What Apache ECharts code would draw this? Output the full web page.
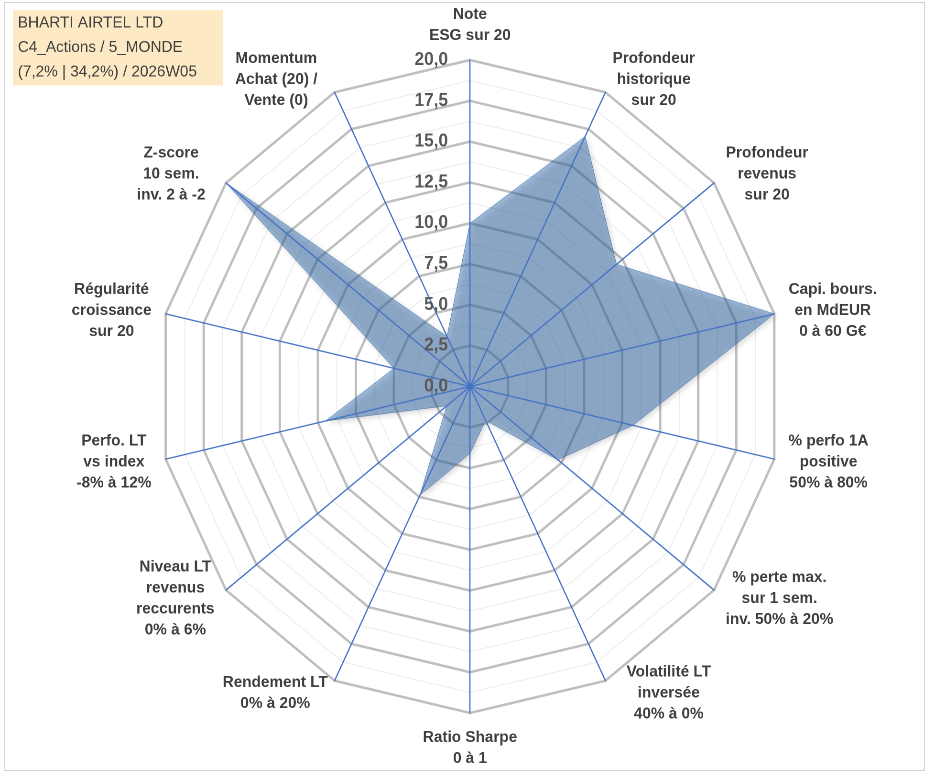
<!DOCTYPE html>
<html>
<head>
<meta charset="utf-8">
<script src="https://cdn.jsdelivr.net/npm/echarts@6/dist/echarts.min.js"></script>
<style>
  html, body { margin: 0; padding: 0; background: #fff; overflow: hidden; }
  #wrap { width: 933px; height: 776px; overflow: hidden; }
  /* the excel plot area is a bit narrower than it is tall */
  #radarChart { width: 976px; height: 776px; transform: scaleX(0.956); transform-origin: 0 0; }
</style>
</head>
<body>
<div id="wrap"><div id="radarChart"></div></div>
<script>
// axes in the order of the reference, clockwise from the top
var axisNames = [
    'Note\nESG sur 20',
    'Profondeur\nhistorique\nsur 20',
    'Profondeur\nrevenus\nsur 20',
    'Capi. bours.\nen MdEUR\n0 à 60 G€',
    '% perfo 1A\npositive\n50% à 80%',
    '% perte max.\nsur 1 sem.\ninv. 50% à 20%',
    'Volatilité LT\ninversée\n40% à 0%',
    'Ratio Sharpe\n0 à 1',
    'Rendement LT\n0% à 20%',
    'Niveau LT\nrevenus\nreccurents\n0% à 6%',
    'Perfo. LT\nvs index\n-8% à 12%',
    'Régularité\ncroissance\nsur 20',
    'Z-score\n10 sem.\ninv. 2 à -2',
    'Momentum\nAchat (20) /\nVente (0)'
];
var scores = [10, 17, 12, 20, 10.7, 7.2, 2.3, 4.1, 7.4, 1.9, 9.5, 5.0, 20, 3.4];
var scaleMax = 20;
var titleLines = ['BHARTI AIRTEL LTD', 'C4_Actions / 5_MONDE', '(7,2% | 34,2%) / 2026W05'];

var sx = 0.956;
// a few names sit a little further from their spoke in excel (px, outwards)
var nameExtraGap = { 'Volatilité LT\ninversée\n40% à 0%': 14, 'Z-score\n10 sem.\ninv. 2 à -2': 9, 'Momentum\nAchat (20) /\nVente (0)': 10 };

// echarts lays indicators out counter-clockwise, so keep the first and reverse the rest
function cw(arr) {
    return [arr[0]].concat(arr.slice(1).reverse());
}
var names = cw(axisNames);
var vals = cw(scores);

// width of each name block, so the lines can be centred inside it
var ctx = document.createElement('canvas').getContext('2d');
ctx.font = 'bold 16px "Liberation Sans"';
var rich = {};
names.forEach(function (n, i) {
    var w = 0;
    n.split('\n').forEach(function (l) { w = Math.max(w, ctx.measureText(l).width); });
    var st = { width: Math.ceil(w) + 2, align: 'center', lineHeight: 21 };
    var extra = nameExtraGap[n];
    if (extra) {
        // names left of the centre are right aligned, so pad on the right
        var leftSide = i > 0 && i < names.length / 2;
        st.padding = leftSide ? [0, extra / sx, 0, 0] : [0, 0, 0, extra / sx];
    }
    rich['n' + i] = st;
});

function indicators(withLabel) {
    return names.map(function (n, i) {
        var ind = { name: n, max: scaleMax, min: 0 };
        if (withLabel && i === 0) ind.axisLabel = { show: true };
        return ind;
    });
}

var center = [470 / sx, 386.5];
var radius = 326.5;

var chart = echarts.init(document.getElementById('radarChart'), null, { devicePixelRatio: 2 });
var option = {
    animation: false,
    title: {
        text: titleLines.join('\n'),
        left: 13 / sx,
        top: 10,
        padding: [1, 27, 1, 5],
        backgroundColor: '#fde9c4',
        textStyle: {
            fontFamily: 'Liberation Sans',
            fontSize: 16,
            fontWeight: 'normal',
            color: '#404040',
            lineHeight: 24.5
        }
    },
    graphic: [{
        type: 'rect',
        shape: { x: 4.5 / sx, y: 2.5, width: 920 / sx, height: 768 },
        style: { fill: 'none', stroke: '#d0d0d0', lineWidth: 1 },
        silent: true
    }],
    radar: [
        {   // minor rings
            center: center, radius: radius, shape: 'polygon', splitNumber: 16,
            indicator: indicators(false),
            axisName: { show: false },
            axisLine: { show: false },
            splitArea: { show: false },
            splitLine: { lineStyle: { color: '#ececec', width: 1 } },
            z: 0
        },
        {   // major rings
            center: center, radius: radius, shape: 'polygon', splitNumber: 8,
            indicator: indicators(false),
            axisName: { show: false },
            axisLine: { show: false },
            splitArea: { show: false },
            splitLine: { lineStyle: { color: '#bfbfbf', width: 2.5 } },
            z: 1
        },
        {   // spokes, tick labels and names on top of the fill
            center: center, radius: radius, shape: 'polygon', splitNumber: 8,
            indicator: indicators(true),
            splitLine: { show: false },
            splitArea: { show: false },
            axisLine: { lineStyle: { color: '#4472c4', width: 1.3 } },
            axisLabel: {
                show: false,
                margin: 23,
                color: '#595959',
                fontFamily: 'Liberation Sans',
                fontWeight: 'bold',
                fontSize: 18,
                formatter: function (v) { return v.toFixed(1).replace('.', ','); }
            },
            nameGap: 14,
            axisName: {
                color: '#3f3f3f',
                fontFamily: 'Liberation Sans',
                fontWeight: 'bold',
                fontSize: 16,
                lineHeight: 21,
                rich: rich,
                formatter: function (name) {
                    var i = names.indexOf(name);
                    return name.split('\n').map(function (l) { return '{n' + i + '|' + l + '}'; }).join('\n');
                }
            },
            z: 3
        }
    ],
    series: [{
        type: 'radar',
        radarIndex: 1,
        z: 2,
        symbol: 'none',
        lineStyle: { width: 0.5, color: 'rgba(55,110,175,0.8)' },
        areaStyle: {
            color: 'rgba(55,110,175,0.68)',
            shadowBlur: 6,
            shadowOffsetX: 2,
            shadowOffsetY: 2,
            shadowColor: 'rgba(0,0,0,0.35)'
        },
        data: [{ value: vals, name: 'Score' }]
    }]
};
chart.setOption(option);
</script>
</body>
</html>
